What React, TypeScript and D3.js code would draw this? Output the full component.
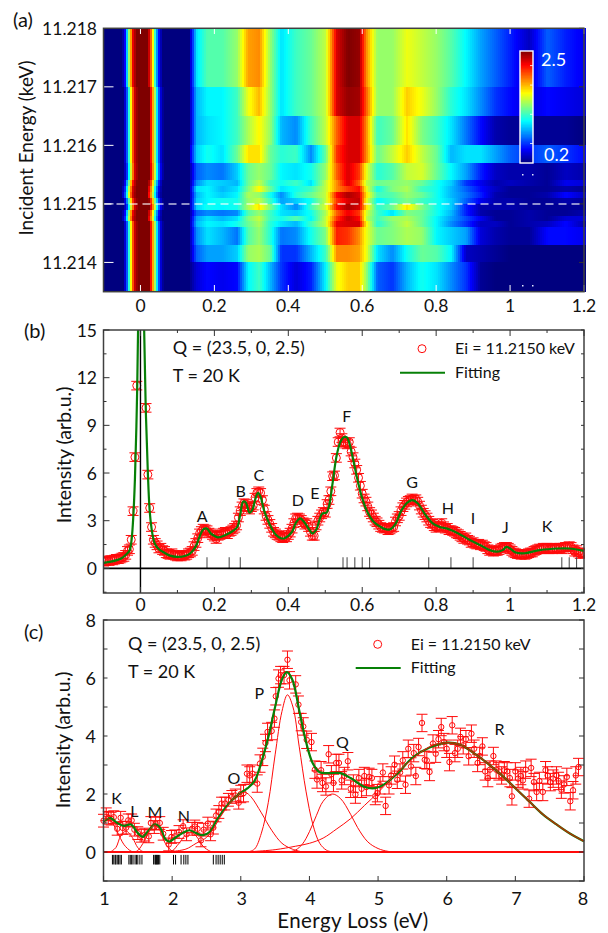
import React from "react";
import * as d3 from "d3";

const FONT = "Lato, 'Noto Sans', sans-serif";

// ---------- Panel (a) heat map ----------
const rowEdges = [11.218,11.217,11.2165,11.216,11.2157,11.2154,11.2153,11.2152,11.2151,11.215,11.2149,11.2148,11.2147,11.2146,11.2143,11.214,11.2135];
const elasticE = [-0.1,-0.05,-0.042,-0.035,-0.028,-0.02,-0.01,0.02,0.028,0.034,0.04,0.046,0.052,0.06,0.13];
const elasticV = [0.2,0.2,0.5,1.1,1.7,2.3,2.5,2.5,2.0,1.6,1.1,0.7,0.4,0.2,0.2];
const rowShift = [-0.001,0.002,0.002,0.002,0.003,0.0,-0.002,-0.003,0.001,0.003,-0.001,-0.002,0.002,0.002,0.002,0.002];
const inelasticE = [0.13,0.15,0.18,0.22,0.26,0.29,0.32,0.35,0.38,0.42,0.46,0.50,0.53,0.56,0.59,0.61,0.64,0.68,0.72,0.76,0.80,0.84,0.88,0.92,0.96,1.0,1.05,1.1,1.15,1.2];
const row01 = [0.2,1.0,1.25,1.25,1.4,1.85,1.9,1.4,1.0,1.2,1.3,1.5,2.3,2.5,2.45,1.9,1.4,1.4,1.6,1.5,1.4,1.25,1.05,0.85,0.7,0.55,0.35,0.7,0.55,0.45];
const row02 = [0.2,0.9,1.05,1.05,1.2,1.6,1.8,1.4,1.0,1.2,1.3,1.5,2.3,2.45,2.42,2.0,1.4,1.4,1.75,1.6,1.4,1.15,1.0,0.8,0.6,0.5,0.4,0.5,0.45,0.4];
const row03 = [0.2,0.9,1.0,1.05,1.2,1.45,1.65,1.4,0.9,0.8,1.2,1.5,2.0,2.3,2.3,1.9,1.2,1.3,1.7,1.35,1.2,1.0,0.75,0.5,0.3,0.25,0.25,0.25,0.25,0.2];
const row04 = [0.3,0.95,1.1,1.0,1.3,1.7,1.7,1.3,1.15,1.2,0.8,1.3,2.1,2.3,2.3,1.9,1.3,1.5,1.75,1.5,1.3,0.9,1.0,1.0,0.85,0.7,0.6,0.7,0.6,0.5];
const row05 = [0.2,0.7,0.8,0.75,0.95,1.3,1.4,1.3,1.05,1.0,1.1,1.4,2.0,2.3,2.1,1.6,1.15,1.25,1.5,1.55,1.3,1.05,0.85,0.55,0.35,0.3,0.3,0.25,0.35,0.3];
const row06 = [0.2,0.8,1.0,0.95,0.9,1.3,1.5,1.2,1.1,1.2,1.0,1.5,1.9,2.3,2.0,1.5,1.3,1.35,1.4,1.3,1.1,0.95,0.6,0.45,0.3,0.35,0.3,0.25,0.45,0.4];
const row07 = [0.2,1.0,1.05,0.9,1.0,1.35,1.65,1.3,1.0,1.1,1.2,1.5,1.9,2.1,2.2,1.6,1.1,1.35,1.45,1.2,1.1,0.9,0.7,0.5,0.35,0.25,0.25,0.25,0.3,0.25];
const row08 = [0.2,0.9,1.05,0.95,1.05,1.45,1.4,1.1,0.8,1.15,1.3,1.5,2.2,2.4,2.3,1.7,1.2,1.25,1.4,1.3,1.1,0.9,0.75,0.55,0.3,0.25,0.25,0.3,0.5,0.35];
const row09 = [0.2,0.95,1.05,1.1,1.1,1.4,1.5,1.2,0.85,0.95,1.1,1.5,2.1,2.3,2.35,1.6,1.05,1.2,1.35,1.2,1.1,0.95,0.7,0.45,0.3,0.3,0.25,0.25,0.3,0.25];
const row10 = [0.2,0.95,1.1,1.05,1.1,1.45,1.7,1.35,1.0,0.8,1.2,1.55,2.2,2.4,2.3,1.7,1.15,1.3,1.7,1.35,1.1,0.95,0.55,0.3,0.3,0.3,0.25,0.25,0.25,0.25];
const row11 = [0.2,0.7,0.8,0.75,0.8,1.25,1.4,1.2,1.0,0.95,1.1,1.45,2.0,2.25,2.1,1.55,1.2,1.0,1.35,1.3,1.1,0.9,0.55,0.3,0.25,0.25,0.3,0.25,0.25,0.3];
const row12 = [0.2,0.85,1.0,0.9,1.0,1.35,1.5,1.2,1.1,1.25,1.05,1.5,2.1,2.35,2.2,1.5,1.2,1.4,1.45,1.3,1.05,0.85,0.65,0.45,0.25,0.25,0.3,0.25,0.4,0.4];
const row13 = [0.2,0.9,1.05,1.0,1.1,1.3,1.45,1.15,1.0,0.9,1.2,1.5,2.25,2.3,2.3,1.65,1.15,1.35,1.5,1.3,1.05,0.8,0.6,0.35,0.35,0.25,0.3,0.35,0.5,0.3];
const row14 = [0.2,0.8,1.0,0.9,0.75,1.25,1.4,1.15,0.75,0.8,1.1,1.35,2.15,2.1,1.9,1.6,1.3,1.35,1.45,1.4,1.05,0.95,0.85,0.4,0.3,0.25,0.25,0.5,0.5,0.45];
const row15 = [0.2,0.7,0.85,0.85,0.95,1.4,1.45,1.3,0.6,0.6,0.9,1.2,1.9,1.9,1.85,1.6,1.0,0.8,1.1,1.3,1.25,1.05,0.35,0.3,0.25,0.2,0.2,0.2,0.2,0.2];
const row16 = [0.2,0.4,0.5,0.45,0.5,1.05,1.2,0.9,0.6,0.4,0.55,1.05,1.6,1.75,1.75,1.4,0.7,0.6,0.9,1.1,1.0,0.8,0.6,0.25,0.2,0.2,0.2,0.2,0.2,0.2];
const heatRows = [row01,row02,row03,row04,row05,row06,row07,row08,row09,row10,row11,row12,row13,row14,row15,row16];
const incidentTicks = [11.214,11.215,11.216,11.217,11.218];

// ---------- Panel (b) RIXS low energy ----------
const bStart = -0.1;
const bStep = 0.005;
const bIntensity = [
0.42,0.45,0.5,0.46,0.52,0.5,0.55,0.6,0.58,0.62,0.68,0.72,0.85,1.1,1.2,1.8,3.6,7.0,11.5,22,
32,26,16,10.1,5.9,3.8,2.6,1.8,1.6,1.45,1.25,1.3,1.15,1.1,0.95,0.9,0.85,0.95,0.85,0.8,
0.75,0.8,0.75,0.85,0.8,0.85,0.95,1.0,1.1,1.4,1.6,1.9,2.2,2.35,2.5,2.45,2.4,2.25,2.2,2.1,
2.0,1.85,2.05,2.1,2.2,2.25,2.3,2.15,2.3,2.35,2.45,2.55,2.7,3.2,3.6,3.9,4.1,4.05,3.85,3.7,
3.85,3.95,4.45,4.75,4.85,4.75,4.3,3.7,3.3,3.05,2.8,2.55,2.3,2.2,2.1,2.05,1.95,1.9,2.0,1.95,
2.1,2.25,2.5,2.85,3.15,3.2,3.15,3.05,2.9,2.75,2.85,2.6,2.3,2.05,2.05,2.7,3.0,3.2,3.4,3.55,
3.5,4.05,4.3,4.85,5.8,5.85,6.95,7.95,8.55,8.2,7.95,7.85,7.8,7.95,7.35,7.0,6.6,6.2,5.7,5.2,
4.7,4.4,4.2,3.9,3.55,3.4,3.2,3.0,2.9,2.75,2.6,2.55,2.5,2.55,2.4,2.45,2.55,2.6,2.95,3.15,
3.3,3.6,3.85,4.0,4.15,4.25,4.3,4.4,4.3,4.35,4.2,3.95,3.7,3.5,3.35,3.2,3.0,2.85,2.8,2.65,
2.55,2.7,2.6,2.85,2.65,2.5,2.55,2.4,2.4,2.35,2.3,2.2,2.15,2.05,1.95,1.85,1.95,1.8,1.75,1.6,
1.65,1.55,1.5,1.55,1.45,1.5,1.4,1.35,1.2,1.1,1.15,1.05,1.1,1.1,1.15,1.25,1.3,1.35,1.35,1.3,
1.2,1.1,1.0,0.95,0.9,0.9,0.85,0.9,0.85,0.9,0.95,1.0,1.0,1.1,1.15,1.2,1.25,1.2,1.3,1.25,
1.3,1.2,1.25,1.2,1.3,1.25,1.25,1.3,1.2,1.3,1.35,1.35,1.4,1.35,1.2,1.05,1.15,1.0,0.9,1.0,
0.95];
const bError = 0.27;
const bFitX = [-0.1,-0.08,-0.06,-0.05,-0.04,-0.03,-0.025,-0.02,-0.015,-0.01,-0.0065,0,0.01,0.015,0.02,0.025,0.03,0.035,0.04,0.05,0.06,0.08,0.1,0.12,0.135,0.15,0.16,0.17,0.18,0.19,0.2,0.21,0.23,0.25,0.262,0.27,0.278,0.285,0.295,0.303,0.31,0.318,0.325,0.335,0.35,0.365,0.38,0.39,0.41,0.42,0.432,0.445,0.455,0.465,0.475,0.485,0.492,0.503,0.51,0.52,0.53,0.54,0.55,0.558,0.565,0.575,0.585,0.6,0.615,0.63,0.65,0.665,0.675,0.69,0.705,0.72,0.735,0.75,0.77,0.79,0.81,0.83,0.86,0.89,0.92,0.945,0.965,0.98,0.99,1.0,1.015,1.04,1.08,1.13,1.16,1.2];
const bFitY = [0.35,0.42,0.55,0.65,0.85,1.1,1.6,3.0,5.6,10,15,40,15,9.5,6.0,3.6,2.5,1.85,1.5,1.2,1.05,0.8,0.72,0.78,0.95,1.4,2.0,2.45,2.5,2.2,2.05,1.95,2.1,2.35,2.6,3.4,4.2,4.15,3.5,3.7,4.3,4.75,4.5,3.6,2.75,2.15,1.9,1.9,2.3,2.85,3.15,2.85,2.5,2.2,2.4,3.1,3.45,3.5,3.9,5.4,7.0,7.9,8.25,8.25,7.9,6.9,5.8,4.4,3.5,2.95,2.6,2.45,2.45,2.8,3.6,4.1,4.3,4.1,3.4,2.85,2.6,2.5,2.2,1.8,1.45,1.15,1.05,1.15,1.35,1.25,1.0,0.95,1.15,1.25,1.25,1.1];
const bSticks = [0.18,0.24,0.27,0.48,0.548,0.559,0.58,0.6,0.62,0.78,0.84,0.9,1.14,1.16,1.18];
const bLetters = ["A","B","C","D","E","F","G","H","I","J","K"];
const bLetterX = [0.167,0.271,0.32,0.426,0.472,0.558,0.735,0.832,0.9,0.987,1.1];
const bLetterY = [2.89,4.47,5.47,3.9,4.34,9.18,5.06,3.42,2.79,2.23,2.29];
const bXTicks = [0,0.2,0.4,0.6,0.8,1,1.2];
const bYTicks = [0,3,6,9,12,15];

// ---------- Panel (c) RIXS high energy ----------
const cX = [1.0,1.04,1.07,1.11,1.15,1.2,1.25,1.28,1.33,1.36,1.41,1.45,1.5,1.55,1.6,1.66,1.69,1.74,1.76,1.82,1.87,1.95,1.99,2.04,2.1,2.16,2.21,2.29,2.33,2.37,2.42,2.46,2.52,2.56,2.6,2.64,2.68,2.72,2.77,2.82,2.87,2.92,2.97,3.0,3.04,3.09,3.13,3.17,3.24,3.28,3.32,3.36,3.39,3.45,3.49,3.51,3.55,3.58,3.63,3.68,3.71,3.8,3.84,3.88,3.91,3.96,4.03,4.08,4.11,4.17,4.19,4.24,4.28,4.32,4.35,4.39,4.43,4.47,4.51,4.56,4.6,4.64,4.67,4.72,4.76,4.8,4.83,4.87,4.91,4.96,4.99,5.03,5.07,5.11,5.16,5.19,5.24,5.28,5.32,5.36,5.4,5.44,5.48,5.52,5.55,5.59,5.64,5.68,5.71,5.75,5.8,5.84,5.88,5.92,5.96,6.0,6.04,6.08,6.12,6.16,6.2,6.24,6.28,6.32,6.36,6.4,6.45,6.48,6.52,6.56,6.6,6.63,6.68,6.72,6.76,6.8,6.84,6.88,6.92,6.95,7.0,7.04,7.08,7.11,7.15,7.2,7.23,7.27,7.31,7.35,7.4,7.44,7.47,7.51,7.55,7.6,7.63,7.67,7.71,7.75,7.8,7.84,7.88,7.92];
const cY = [1.08,1.3,1.18,1.15,1.2,0.8,1.18,0.83,0.84,1.09,1.09,0.77,0.65,0.56,0.6,0.54,1.0,0.86,0.98,1.0,0.63,0.26,0.52,0.54,0.69,0.89,0.61,0.8,0.88,0.8,0.4,0.77,0.98,0.61,0.84,1.26,1.38,1.67,1.67,1.8,1.9,1.95,1.7,2.0,2.03,2.7,2.64,2.7,2.36,3.05,3.28,3.76,4.14,4.17,4.6,5.37,5.98,6.1,6.1,6.63,5.92,5.78,5.08,4.48,4.33,3.87,3.79,2.84,2.5,2.82,2.38,2.26,3.37,2.68,2.38,3.07,3.07,2.47,2.62,3.13,2.18,2.36,1.98,2.55,2.18,2.62,2.24,2.59,2.55,1.93,2.03,2.3,2.74,1.59,2.3,2.64,3.01,2.49,2.74,3.16,2.32,3.56,2.95,3.41,2.62,3.62,4.45,3.18,3.16,2.76,3.74,3.39,3.89,4.31,3.79,3.56,3.1,4.37,3.41,3.56,3.97,3.68,3.89,3.3,4.08,3.56,3.07,3.31,3.64,2.78,2.55,2.84,3.31,2.84,2.78,2.64,2.82,2.78,2.55,1.92,2.78,2.53,2.62,2.47,2.84,1.84,2.9,2.41,2.07,2.45,2.07,2.82,2.64,2.41,2.53,2.64,2.45,2.15,2.33,2.59,1.75,2.13,2.64,2.93];
const cErrorLow = 0.22;
const cErrorHigh = 0.3;
const cFitX = [1,1.1,1.2,1.3,1.4,1.5,1.57,1.65,1.75,1.82,1.9,1.96,2.05,2.15,2.25,2.35,2.45,2.55,2.65,2.8,2.95,3.1,3.2,3.3,3.4,3.5,3.6,3.67,3.75,3.85,3.95,4.05,4.15,4.3,4.45,4.6,4.8,4.95,5.1,5.3,5.5,5.75,6.0,6.2,6.4,6.6,6.8,7.0,7.2,7.4,7.6,7.8,8.0];
const cFitY = [1.05,1.17,1.0,0.9,0.95,0.65,0.52,0.72,0.95,0.85,0.45,0.36,0.5,0.65,0.75,0.65,0.58,0.7,1.1,1.6,1.95,2.2,2.45,3.1,3.95,5.0,5.95,6.2,5.95,4.9,3.8,3.05,2.75,2.72,2.72,2.55,2.25,2.2,2.35,2.75,3.25,3.6,3.77,3.7,3.4,3.05,2.65,2.2,1.75,1.3,0.95,0.63,0.37];
const peakKX = [1.0,1.05,1.1,1.2,1.3,1.4,1.45];
const peakKY = [1.05,1.15,1.1,0.7,0.25,0.03,0];
const peakLX = [1.1,1.18,1.25,1.33,1.42,1.5,1.57,1.62];
const peakLY = [0,0.15,0.55,0.72,0.5,0.15,0.02,0];
const peakMX = [1.45,1.5,1.6,1.7,1.75,1.82,1.9,2.0,2.05];
const peakMY = [0,0.05,0.4,0.85,0.93,0.75,0.3,0.03,0];
const peakNX = [1.95,2.0,2.1,2.2,2.27,2.35,2.45,2.55,2.6];
const peakNY = [0,0.03,0.3,0.6,0.68,0.55,0.2,0.03,0];
const peakOX = [2.0,2.2,2.35,2.5,2.6,2.7,2.8,2.9,3.0,3.07,3.15,3.3,3.45,3.6,3.75,3.9];
const peakOY = [0.02,0.1,0.3,0.5,0.8,1.2,1.55,1.85,2.02,2.05,1.9,1.35,0.75,0.3,0.1,0];
const peakPX = [3.1,3.2,3.3,3.4,3.5,3.6,3.68,3.76,3.85,3.95,4.05,4.15,4.25,4.35];
const peakPY = [0,0.1,0.65,1.7,3.35,4.85,5.42,5.0,3.65,2.1,0.95,0.3,0.06,0];
const peakQX = [3.7,3.8,3.9,4.0,4.1,4.2,4.33,4.45,4.6,4.7,4.85,5.0,5.15,5.3];
const peakQY = [0,0.07,0.28,0.7,1.25,1.75,2.0,1.85,1.3,0.85,0.35,0.12,0.02,0];
const peakRX = [3.2,3.5,3.8,4.0,4.2,4.4,4.6,4.8,5.0,5.2,5.4,5.6,5.8,6.0,6.2,6.4,6.6,6.8,7.0,7.2,7.4,7.6,7.8,8.0];
const peakRY = [0.02,0.08,0.2,0.3,0.48,0.8,1.15,1.6,2.05,2.55,3.0,3.4,3.68,3.77,3.7,3.4,3.05,2.65,2.2,1.75,1.3,0.95,0.63,0.37];
const cSticks = [1.13,1.15,1.17,1.18,1.2,1.22,1.24,1.26,1.37,1.39,1.41,1.43,1.46,1.48,1.5,1.53,1.56,1.73,1.75,1.76,1.77,1.78,1.79,1.8,1.82,2.02,2.05,2.13,2.17,2.2,2.23,2.6,2.64,2.67,2.7,2.73,2.76];
const cLetters = ["K","L","M","N","O","P","Q","R"];
const cLetterX = [1.19,1.45,1.75,2.17,2.9,3.27,4.48,6.77];
const cLetterY = [1.67,1.22,1.16,1.05,2.36,5.29,3.57,4.05];
const cXTicks = [1,2,3,4,5,6,7,8];
const cYTicks = [0,2,4,6,8];

// ---------- geometry ----------
const LEFT = 103.5, RIGHT = 584;
const frame = "#404040";
const ink = "#111";
const red = "#ff0a0a";
const green = "#078007";

const xLow = d3.scaleLinear().domain([-0.1, 1.2]).range([LEFT, RIGHT]);
const yA = d3.scaleLinear().domain([11.218, 11.2135]).range([28.3, 291.7]);
const yB = d3.scaleLinear().domain([15, -1.55]).range([330, 593]);
const xC = d3.scaleLinear().domain([1, 8]).range([LEFT, RIGHT]);
const yC = d3.scaleLinear().domain([8, -1]).range([620, 881]);

const jet = d3.scaleLinear<string>()
  .domain([0.2, 0.4875, 1.0625, 1.6375, 2.2125, 2.5])
  .range(["#00007f", "#0000ff", "#00ffff", "#ffff00", "#ff0000", "#7f0000"])
  .clamp(true);
const elastic = d3.scaleLinear().domain(elasticE).range(elasticV).clamp(true);
const cbar = d3.scaleLinear().domain([0.2, 2.5]).range([163, 51]);

function Heat() {
  const cols = d3.range(LEFT, RIGHT, 2);
  return (
    <g shapeRendering="crispEdges">
      {heatRows.map((vals, r) => {
        const inel = d3.scaleLinear().domain(inelasticE).range(vals).clamp(true);
        const y0 = yA(rowEdges[r]), y1 = yA(rowEdges[r + 1]);
        return cols.map((px) => {
          const e = xLow.invert(px + 1);
          const v = e < 0.13 ? elastic(e - rowShift[r]) : inel(e);
          return <rect key={r + "-" + px} x={px} y={y0} width={2.2} height={y1 - y0 + 0.5} fill={jet(v)} />;
        });
      })}
    </g>
  );
}

function PanelA() {
  const majors = [0, 0.2, 0.4, 0.6, 0.8, 1, 1.2];
  return (
    <g>
      <Heat />
      {majors.map((t) => (
        <g key={t}>
          <line x1={xLow(t)} x2={xLow(t)} y1={28.3} y2={34} stroke="#fff" strokeWidth={1} />
          <line x1={xLow(t)} x2={xLow(t)} y1={291.7} y2={285} stroke="#fff" strokeWidth={1} />
          <text x={Math.min(xLow(t), 584)} y={312} textAnchor="middle" fontSize={17.5} fill={ink}>{t}</text>
        </g>
      ))}
      {incidentTicks.map((t) => (
        <g key={t}>
          <line x1={LEFT} x2={LEFT + 10} y1={yA(t)} y2={yA(t)} stroke="#fff" strokeWidth={1} />
          <line x1={RIGHT} x2={RIGHT - 5} y1={yA(t)} y2={yA(t)} stroke="#333" strokeWidth={1} />
          <text x={97} y={yA(t) + 6.5} textAnchor="end" fontSize={17.5} fill={ink}>{t.toFixed(3)}</text>
        </g>
      ))}
      <line x1={LEFT} x2={RIGHT} y1={yA(11.215)} y2={yA(11.215)} stroke="#fff" strokeOpacity={0.75} strokeWidth={1.5} strokeDasharray="8 5" />
      <rect x={LEFT} y={28.3} width={RIGHT - LEFT} height={263.4} fill="none" stroke={frame} strokeWidth={1.5} />
      {d3.range(0.2, 2.5, 0.012).map((v) => (
        <rect key={v} x={520} y={cbar(v + 0.012)} width={13} height={cbar(v) - cbar(v + 0.012) + 0.4} fill={jet(v)} shapeRendering="crispEdges" />
      ))}
      <rect x={520} y={51} width={13} height={112} fill="none" stroke="#fff" strokeWidth={1.4} />
      {[0.6, 1.2, 1.8, 2.2].map((v) => (
        <line key={v} x1={533} x2={530} y1={cbar(v)} y2={cbar(v)} stroke="#fff" strokeWidth={0.8} />
      ))}
      <text x={541} y={66} fontSize={18} fill="#fff">2.5</text>
      <text x={544} y={161} fontSize={18} fill="#fff">0.2</text>
      {[[522, 174], [532, 174], [522, 285], [532, 285]].map(([x, y]) => (
        <rect key={x + "," + y} x={x} y={y} width={1.5} height={1.5} fill="#dfe6ff" />
      ))}
      <text x={13} y={27} fontSize={20} fill={ink}>(a)</text>
      <text transform="translate(33,148) rotate(-90)" textAnchor="middle" fontSize={19} fill={ink}>Incident Energy (keV)</text>
    </g>
  );
}

function PanelB() {
  const minorX = d3.range(-0.1, 1.2001, 0.1);
  const minorY = d3.range(-1.5, 15.01, 1.5);
  const fit = d3.line<number>().x((_, i) => xLow(bFitX[i])).y((d) => yB(d)).curve(d3.curveCatmullRom.alpha(0.5));
  return (
    <g>
      <defs>
        <clipPath id="clipB"><rect x={LEFT} y={330} width={RIGHT - LEFT + 1} height={263} /></clipPath>
      </defs>
      <g clipPath="url(#clipB)">
        {bIntensity.map((v, i) => {
          const x = xLow(bStart + i * bStep);
          return (
            <g key={i} fill="none" stroke={red} strokeWidth={1}>
              <line x1={x} x2={x} y1={yB(v - bError)} y2={yB(v + bError)} />
              <line x1={x - 5.5} x2={x + 5.5} y1={yB(v - bError)} y2={yB(v - bError)} />
              <line x1={x - 5.5} x2={x + 5.5} y1={yB(v + bError)} y2={yB(v + bError)} />
              <circle cx={x} cy={yB(v)} r={4} />
            </g>
          );
        })}
        <path d={fit(bFitY) || ""} fill="none" stroke={green} strokeWidth={2.2} />
      </g>
      {bSticks.map((s) => (
        <line key={s} x1={xLow(s)} x2={xLow(s)} y1={yB(0)} y2={yB(0.7)} stroke="#444" strokeWidth={1} />
      ))}
      <line x1={LEFT} x2={RIGHT} y1={yB(0)} y2={yB(0)} stroke="#000" strokeWidth={1.8} />
      <line x1={xLow(0)} x2={xLow(0)} y1={330} y2={593} stroke="#000" strokeWidth={1.4} />
      <rect x={LEFT} y={330} width={RIGHT - LEFT} height={263} fill="none" stroke={frame} strokeWidth={1.5} />
      {minorX.map((t, i) => {
        const len = i % 2 === 1 ? 6 : 3;
        return (
          <g key={i} stroke="#333" strokeWidth={1}>
            <line x1={xLow(t)} x2={xLow(t)} y1={593} y2={593 - len} />
            <line x1={xLow(t)} x2={xLow(t)} y1={330} y2={330 + len} />
          </g>
        );
      })}
      {minorY.map((t, i) => {
        const len = i % 2 === 1 ? 6 : 3;
        return (
          <g key={i} stroke="#333" strokeWidth={1}>
            <line x1={LEFT} x2={LEFT + len} y1={yB(t)} y2={yB(t)} />
            <line x1={RIGHT} x2={RIGHT - 3} y1={yB(t)} y2={yB(t)} />
          </g>
        );
      })}
      {bXTicks.map((t) => (
        <text key={t} x={xLow(t)} y={611} textAnchor="middle" fontSize={17.5} fill={ink}>{t}</text>
      ))}
      {bYTicks.map((t) => (
        <text key={t} x={97} y={yB(t) + 6.5} textAnchor="end" fontSize={17.5} fill={ink}>{t}</text>
      ))}
      {bLetters.map((l, i) => (
        <text key={l} x={xLow(bLetterX[i])} y={yB(bLetterY[i])} textAnchor="middle" fontSize={16} fill={ink}>{l}</text>
      ))}
      <text x={172.7} y={354} fontSize={18} fill={ink}>Q = (23.5, 0, 2.5)</text>
      <text x={172.7} y={382} fontSize={18} fill={ink}>T = 20 K</text>
      <circle cx={422} cy={348.7} r={4} fill="none" stroke={red} strokeWidth={1} />
      <text x={455} y={354} fontSize={16} fill={ink}>Ei = 11.2150 keV</text>
      <line x1={400} x2={445} y1={372.7} y2={372.7} stroke={green} strokeWidth={2} />
      <text x={455} y={378} fontSize={16} fill={ink}>Fitting</text>
      <text x={24} y={338} fontSize={20} fill={ink}>(b)</text>
      <text transform="translate(71,455) rotate(-90)" textAnchor="middle" fontSize={19.5} fill={ink}>Intensity (arb.u.)</text>
    </g>
  );
}

function PanelC() {
  const path = (xs: number[], ys: number[]) =>
    d3.line<number>().x((_, i) => xC(xs[i])).y((d) => yC(d)).curve(d3.curveCatmullRom.alpha(0.5))(ys) || "";
  const peaks: [number[], number[]][] = [
    [peakKX, peakKY], [peakLX, peakLY], [peakMX, peakMY], [peakNX, peakNY],
    [peakOX, peakOY], [peakPX, peakPY], [peakQX, peakQY], [peakRX, peakRY],
  ];
  const overlapStart = peakRX.indexOf(5.8);
  return (
    <g>
      {cSticks.map((s) => (
        <line key={s} x1={xC(s)} x2={xC(s)} y1={yC(-0.1)} y2={yC(-0.43)} stroke="#000" strokeWidth={1} />
      ))}
      {cX.map((x, i) => {
        const e = x < 3 ? cErrorLow : cErrorHigh;
        const y = cY[i];
        const px = xC(x);
        return (
          <g key={i} fill="none" stroke={red} strokeWidth={1}>
            <line x1={px} x2={px} y1={yC(y - e)} y2={yC(y + e)} />
            <line x1={px - 5.5} x2={px + 5.5} y1={yC(y - e)} y2={yC(y - e)} />
            <line x1={px - 5.5} x2={px + 5.5} y1={yC(y + e)} y2={yC(y + e)} />
            <circle cx={px} cy={yC(y)} r={2.7} />
          </g>
        );
      })}
      <path d={path(cFitX, cFitY)} fill="none" stroke={green} strokeWidth={2.2} />
      {peaks.map(([xs, ys], i) => (
        <path key={i} d={path(xs, ys)} fill="none" stroke={red} strokeWidth={1} />
      ))}
      <path d={path(peakRX.slice(overlapStart), peakRY.slice(overlapStart))} fill="none" stroke="#a03a00" strokeOpacity={0.5} strokeWidth={2} />
      <line x1={LEFT} x2={RIGHT} y1={yC(0)} y2={yC(0)} stroke={red} strokeWidth={2.2} />
      <rect x={LEFT} y={620} width={RIGHT - LEFT} height={261} fill="none" stroke={frame} strokeWidth={1.5} />
      {cXTicks.map((t) => (
        <g key={t}>
          <line x1={xC(t)} x2={xC(t)} y1={881} y2={876} stroke="#333" />
          <text x={Math.min(xC(t) + 1, 583)} y={904.5} textAnchor="middle" fontSize={18} fill={ink}>{t}</text>
        </g>
      ))}
      {d3.range(-1, 9).map((t) => (
        <g key={t} stroke="#333">
          <line x1={LEFT} x2={LEFT + 4} y1={yC(t)} y2={yC(t)} />
          <line x1={RIGHT} x2={RIGHT - 5} y1={yC(t)} y2={yC(t)} />
        </g>
      ))}
      {cYTicks.map((t) => (
        <text key={t} x={96} y={yC(t) + 6.5} textAnchor="end" fontSize={18} fill={ink}>{t}</text>
      ))}
      {cLetters.map((l, i) => (
        <text key={l} x={xC(cLetterX[i])} y={yC(cLetterY[i])} textAnchor="middle" fontSize={16} fill={ink}>{l}</text>
      ))}
      <text x={128} y={650} fontSize={18} fill={ink}>Q = (23.5, 0, 2.5)</text>
      <text x={128} y={678} fontSize={18} fill={ink}>T = 20 K</text>
      <circle cx={377.7} cy={644.3} r={4} fill="none" stroke={red} strokeWidth={1} />
      <text x={410.7} y={650} fontSize={16} fill={ink}>Ei = 11.2150 keV</text>
      <line x1={355.7} x2={400.7} y1={668} y2={668} stroke={green} strokeWidth={2} />
      <text x={410.7} y={673} fontSize={16} fill={ink}>Fitting</text>
      <text x={24} y={639} fontSize={20} fill={ink}>(c)</text>
      <text transform="translate(70,740) rotate(-90)" textAnchor="middle" fontSize={19.5} fill={ink}>Intensity (arb.u.)</text>
      <text x={353} y={928.3} textAnchor="middle" fontSize={20.5} letterSpacing={0.4} fill={ink}>Energy Loss (eV)</text>
    </g>
  );
}

export default function App() {
  return (
    <svg width={608} height={933} viewBox="0 0 608 933" fontFamily={FONT}
      style={{ position: "absolute", left: 0, top: 0, background: "#fff" }}>
      <PanelA />
      <PanelB />
      <PanelC />
    </svg>
  );
}
